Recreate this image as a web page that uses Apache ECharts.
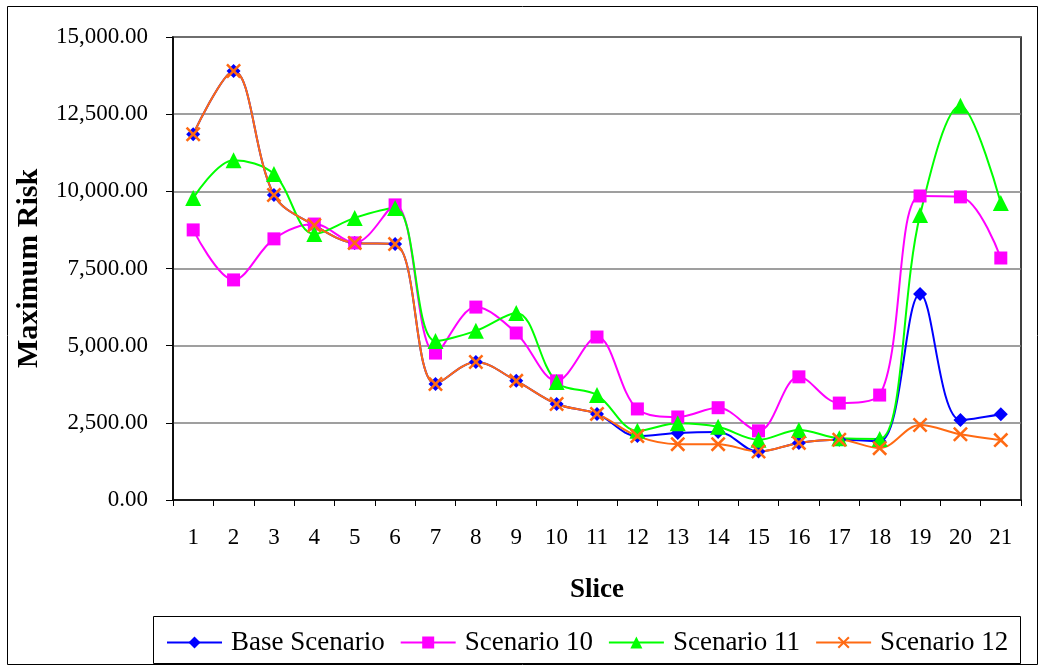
<!DOCTYPE html>
<html><head><meta charset="utf-8">
<script src="https://cdn.jsdelivr.net/npm/echarts@6/dist/echarts.min.js"></script>
<style>html,body{margin:0;padding:0;background:#fff}#c{width:1044px;height:668px}</style>
</head><body><div id="c"></div>
<script>
const slices = ['1','2','3','4','5','6','7','8','9','10','11','12','13','14','15','16','17','18','19','20','21'];
const baseScenario = [11850,13900,9880,8900,8330,8290,3760,4470,3860,3110,2790,2070,2170,2200,1570,1850,1950,1900,6670,2590,2780];
const scenario10 = [8750,7130,8460,8940,8330,9560,4760,6250,5410,3860,5280,2950,2690,2990,2240,3990,3140,3400,9850,9820,7840];
const scenario11 = [9780,11010,10560,8620,9140,9460,5150,5480,6060,3820,3400,2240,2490,2370,1950,2270,2000,1980,9230,12770,9620];
const scenario12 = [11850,13900,9880,8900,8330,8290,3760,4470,3860,3110,2790,2070,1810,1810,1570,1850,1950,1680,2430,2130,1940];
const yTicks = [0,2500,5000,7500,10000,12500,15000];

const FONT = '"Liberation Serif", "Times New Roman", serif';
const X_PATH = 'path://M0,1.2L1.2,0L5,3.8L8.8,0L10,1.2L6.2,5L10,8.8L8.8,10L5,6.2L1.2,10L0,8.8L3.8,5Z';
function fmt(v){return v.toLocaleString('en-US',{minimumFractionDigits:2,maximumFractionDigits:2});}

const chart = echarts.init(document.getElementById('c'), null, {renderer:'canvas'});
function mk(name, data, color, symbol, size){
  return {name, type:'line', data, smooth:0.35, symbol, symbolSize:size,
    lineStyle:{color, width:2}, itemStyle:{color}, z: 2};
}
chart.setOption({
  animation:false,
  backgroundColor:'#fff',
  textStyle:{fontFamily:FONT},
  graphic:[
    {type:'rect', shape:{x:7.5,y:6.5,width:1030,height:658}, style:{fill:'none',stroke:'#000',lineWidth:1}, z:-1},
    {type:'rect', shape:{x:153.5,y:616.5,width:867,height:47}, style:{fill:'#fff',stroke:'#000',lineWidth:1}, z:0}
  ],
  grid:{left:173, top:37, right:23, bottom:168, show:true, borderColor:'#000', borderWidth:1.5, backgroundColor:'#fff'},
  xAxis:{type:'category', data:slices, boundaryGap:true,
    name:'Slice', nameLocation:'middle', nameGap:77,
    nameTextStyle:{fontFamily:FONT, fontSize:27, fontWeight:'bold', color:'#000'},
    axisLine:{lineStyle:{color:'#000', width:1.5}},
    axisTick:{show:true, alignWithLabel:false, length:6, lineStyle:{color:'#000'}},
    axisLabel:{fontFamily:FONT, fontSize:23, color:'#000', margin:26}},
  yAxis:{type:'value', min:0, max:15000, interval:2500,
    name:'Maximum Risk', nameLocation:'middle', nameGap:129, nameRotate:90,
    nameTextStyle:{fontFamily:FONT, fontSize:30, fontWeight:'bold', color:'#000'},
    axisLine:{show:true, lineStyle:{color:'#000', width:1.5}},
    axisTick:{show:true, inside:false, length:7, lineStyle:{color:'#000'}},
    axisLabel:{fontFamily:FONT, fontSize:23, color:'#000', margin:25, formatter:fmt},
    splitLine:{show:true, lineStyle:{color:'#7f7f7f', width:1.5}}},
  legend:{left:161, top:624, itemGap:15, itemWidth:55, itemHeight:15,
    textStyle:{fontFamily:FONT, fontSize:27, color:'#000', padding:[0,0,0,4]},
    data:['Base Scenario','Scenario 10','Scenario 11','Scenario 12']},
  series:[
    mk('Base Scenario', baseScenario, '#0000ff', 'diamond', 14),
    mk('Scenario 10', scenario10, '#ff00ff', 'rect', 13),
    mk('Scenario 11', scenario11, '#00ff00', 'triangle', 16),
    mk('Scenario 12', scenario12, '#ff6a13', X_PATH, 15)
  ]
});
</script></body></html>
